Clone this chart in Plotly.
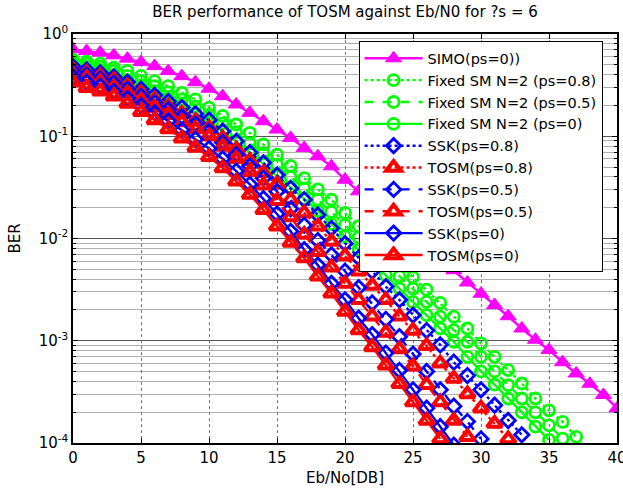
import plotly.graph_objects as go

# ---------------- data (log10 of BER) ----------------
eb_no_db = list(range(0, 41))

simo_ps0 = [-0.15, -0.167, -0.182, -0.209, -0.241, -0.275, -0.314, -0.363, -0.412, -0.471,
            -0.535, -0.608, -0.689, -0.771, -0.853, -0.934, -1.016, -1.114, -1.196, -1.294,
            -1.425, -1.539, -1.65, -1.76, -1.87, -1.98, -2.09, -2.20, -2.31, -2.43,
            -2.54, -2.65, -2.76, -2.88, -2.99, -3.09, -3.21, -3.32, -3.42, -3.53, -3.66]

fixed_sm_ps08 = [-0.25, -0.27, -0.29, -0.33, -0.36, -0.41, -0.46, -0.51, -0.575, -0.64,
                 -0.72, -0.80, -0.885, -0.967, -1.08, -1.18, -1.29, -1.41, -1.52, -1.62,
                 -1.75, -1.88, -2.00, -2.13, -2.25, -2.38, -2.50, -2.63, -2.765, -2.88,
                 -3.026, -3.157, -3.287, -3.418, -3.565, -3.68, -3.794, -3.94]

fixed_sm_ps05 = [-0.27, -0.29, -0.32, -0.36, -0.41, -0.46, -0.51, -0.57, -0.64, -0.71,
                 -0.79, -0.875, -0.96, -1.07, -1.17, -1.28, -1.40, -1.51, -1.62, -1.74,
                 -1.87, -1.99, -2.12, -2.24, -2.37, -2.49, -2.62, -2.765, -2.895, -3.01,
                 -3.157, -3.30, -3.434, -3.565, -3.70, -3.827, -3.957]

fixed_sm_ps0 = [-0.29, -0.32, -0.35, -0.40, -0.45, -0.50, -0.56, -0.63, -0.70, -0.78,
                -0.86, -0.95, -1.05, -1.16, -1.27, -1.39, -1.50, -1.61, -1.73, -1.86,
                -1.98, -2.11, -2.23, -2.36, -2.49, -2.62, -2.75, -2.88, -3.01, -3.157,
                -3.30, -3.43, -3.565, -3.70, -3.84, -3.97]

ssk_ps08 = [-0.32, -0.35, -0.38, -0.42, -0.47, -0.54, -0.60, -0.66, -0.72, -0.78,
            -0.84, -0.95, -1.05, -1.16, -1.26, -1.38, -1.51, -1.62, -1.77, -1.90,
            -2.05, -2.19, -2.32, -2.47, -2.60, -2.75, -2.90, -3.04, -3.21, -3.34,
            -3.48, -3.63, -3.78, -3.92]

tosm_ps08 = [-0.35, -0.38, -0.41, -0.45, -0.51, -0.58, -0.64, -0.71, -0.78, -0.85,
             -0.92, -1.02, -1.13, -1.24, -1.36, -1.47, -1.62, -1.75, -1.88, -2.03,
             -2.17, -2.32, -2.46, -2.60, -2.76, -2.90, -3.05, -3.22, -3.37, -3.52,
             -3.66, -3.81, -3.96]

ssk_ps05 = [-0.37, -0.40, -0.44, -0.48, -0.54, -0.61, -0.67, -0.74, -0.81, -0.88,
            -0.95, -1.06, -1.18, -1.29, -1.41, -1.54, -1.71, -1.87, -2.02, -2.16,
            -2.32, -2.48, -2.63, -2.79, -2.96, -3.13, -3.30, -3.48, -3.64, -3.79,
            -3.96]

tosm_ps05 = [-0.40, -0.43, -0.47, -0.52, -0.58, -0.65, -0.72, -0.79, -0.86, -0.93,
             -1.00, -1.10, -1.22, -1.35, -1.48, -1.63, -1.79, -1.96, -2.13, -2.28,
             -2.44, -2.60, -2.76, -2.92, -3.08, -3.25, -3.43, -3.60, -3.78, -3.94]

ssk_ps0 = [-0.42, -0.47, -0.51, -0.56, -0.63, -0.70, -0.77, -0.85, -0.94, -1.03,
           -1.12, -1.22, -1.34, -1.47, -1.61, -1.76, -1.93, -2.11, -2.26, -2.44,
           -2.60, -2.78, -2.94, -3.12, -3.29, -3.48, -3.66, -3.84, -4.02]

tosm_ps0 = [-0.47, -0.525, -0.56, -0.61, -0.68, -0.76, -0.84, -0.93, -1.02, -1.11,
            -1.20, -1.31, -1.44, -1.57, -1.72, -1.88, -2.04, -2.19, -2.37, -2.535,
            -2.715, -2.895, -3.06, -3.24, -3.42, -3.60, -3.78, -3.96]

y_tick_exponents = [-4, -3, -2, -1, 0]
x_tick_values = [0, 5, 10, 15, 20, 25, 30, 35, 40]

series_names = ["SIMO(ps=0))", "Fixed SM N=2 (ps=0.8)", "Fixed SM N=2 (ps=0.5)",
                "Fixed SM N=2 (ps=0)", "SSK(ps=0.8)", "TOSM(ps=0.8)", "SSK(ps=0.5)",
                "TOSM(ps=0.5)", "SSK(ps=0)", "TOSM(ps=0)"]
series_values = [simo_ps0, fixed_sm_ps08, fixed_sm_ps05, fixed_sm_ps0, ssk_ps08,
                 tosm_ps08, ssk_ps05, tosm_ps05, ssk_ps0, tosm_ps0]

# ---------------- styles ----------------
MAG, GRN, BLU, RED = "#FF00FF", "#00FF00", "#0000FF", "#FF0000"
styles = [
    dict(color=MAG, dash="solid", symbol="triangle-up", size=14, mlw=1),
    dict(color=GRN, dash="dot", symbol="circle-open", size=11, mlw=2.8),
    dict(color=GRN, dash="dash", symbol="circle-open", size=11, mlw=2.8),
    dict(color=GRN, dash="solid", symbol="circle-open", size=11, mlw=2.8),
    dict(color=BLU, dash="dot", symbol="diamond-open", size=11, mlw=2.8),
    dict(color=RED, dash="dot", symbol="triangle-up-open", size=13, mlw=4),
    dict(color=BLU, dash="dash", symbol="diamond-open", size=11, mlw=2.8),
    dict(color=RED, dash="dash", symbol="triangle-up-open", size=13, mlw=4),
    dict(color=BLU, dash="solid", symbol="diamond-open", size=11, mlw=2.8),
    dict(color=RED, dash="solid", symbol="triangle-up-open", size=13, mlw=4),
]

fig = go.Figure()
for name, vals, st in zip(series_names, series_values, styles):
    fig.add_trace(go.Scatter(
        x=eb_no_db[:len(vals)],
        y=[10 ** v for v in vals],
        mode="lines+markers",
        name=name,
        line=dict(color=st["color"], width=2.4, dash=st["dash"]),
        marker=dict(symbol=st["symbol"], size=st["size"], color=st["color"],
                    line=dict(color=st["color"], width=st["mlw"])),
    ))

FONT = "DejaVu Sans, Liberation Sans, Arial, sans-serif"
minor_vals = [m * 10 ** e for e in range(-4, 0) for m in range(2, 10)]

fig.update_layout(
    width=623, height=489,
    margin=dict(l=73, r=6, t=34, b=46, autoexpand=False),
    paper_bgcolor="white", plot_bgcolor="white",
    font=dict(family=FONT, size=15, color="black"),
    title=dict(text="BER performance of TOSM against Eb/N0 for ?s = 6",
               x=0.5, xref="paper", xanchor="center",
               y=1 - 12 / 489, yref="container", yanchor="middle",
               font=dict(family=FONT, size=15, color="black")),
    showlegend=True,
    legend=dict(x=0.525, y=0.982, xanchor="left", yanchor="top",
                bgcolor="white", bordercolor="black", borderwidth=1,
                font=dict(family=FONT, size=14.5, color="black"),
                itemwidth=58, tracegroupgap=0),
)

fig.update_xaxes(
    automargin=False,
    range=[0, 40], tickmode="array", tickvals=x_tick_values,
    ticks="inside", ticklen=5, tickcolor="black",
    ticklabeloverflow="allow",
    showline=True, linecolor="black", linewidth=1.5, mirror="ticks",
    showgrid=True, gridcolor="#777777", gridwidth=1, griddash="dot",
    zeroline=False,
    title=dict(text="Eb/No[DB]", standoff=7, font=dict(size=15)),
)

fig.update_yaxes(
    automargin=False,
    type="log", range=[-4, 0], tickmode="array",
    tickvals=[10 ** e for e in y_tick_exponents],
    ticktext=["10<sup>%d</sup>" % e for e in y_tick_exponents],
    ticks="inside", ticklen=5, tickcolor="black",
    ticklabeloverflow="allow",
    showline=True, linecolor="black", linewidth=1.5, mirror="ticks",
    showgrid=True, gridcolor="#555555", gridwidth=1,
    minor=dict(tickmode="array", tickvals=minor_vals, ticks="inside", ticklen=3,
               tickcolor="black", showgrid=True, gridcolor="#b0b0b0", gridwidth=1),
    zeroline=False,
    title=dict(text="BER", standoff=14, font=dict(size=15)),
)

fig.write_html(
    "out.html",
    config={"displayModeBar": False},
    post_script="document.body.style.margin='0px';document.body.style.overflow='hidden';",
)
